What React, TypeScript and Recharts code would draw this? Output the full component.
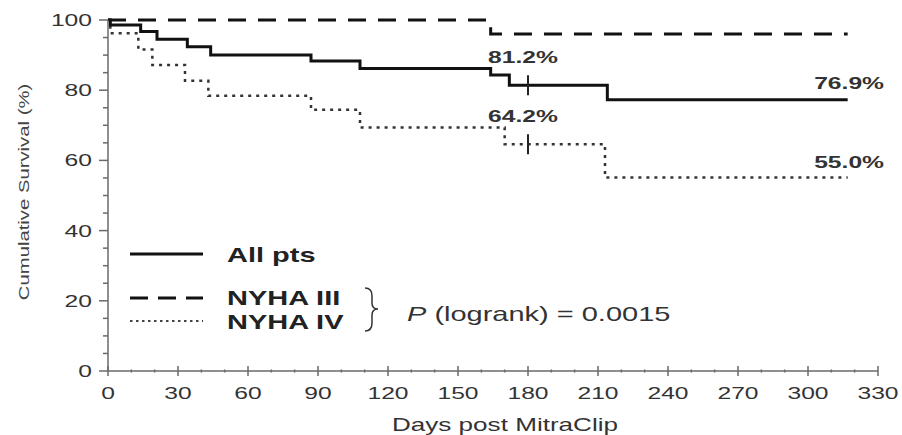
import React from "react"
import { ComposedChart, Line, Scatter, XAxis, YAxis } from "recharts"

// Kaplan-Meier steps (day, survival %)
const allPts = [
  { day: 0, v: 100 }, { day: 1, v: 98.6 }, { day: 14, v: 96.7 }, { day: 21, v: 94.5 },
  { day: 34, v: 92.4 }, { day: 44, v: 90.0 }, { day: 87, v: 88.3 }, { day: 108, v: 86.2 },
  { day: 164, v: 84.3 }, { day: 172, v: 81.4 }, { day: 214, v: 77.3 }, { day: 317, v: 77.3 },
]
const nyha3 = [
  { day: 0, v: 100 }, { day: 164, v: 96 }, { day: 317, v: 96 },
]
const nyha4 = [
  { day: 0, v: 100 }, { day: 1, v: 96.2 }, { day: 13, v: 91.6 }, { day: 19, v: 87.2 },
  { day: 33, v: 82.7 }, { day: 43, v: 78.4 }, { day: 87, v: 74.4 }, { day: 108, v: 69.4 },
  { day: 170, v: 64.6 }, { day: 213, v: 55.1 }, { day: 317, v: 55.1 },
]
const censorAll = [{ day: 180, v: 81.4 }]
const censorIV = [{ day: 180, v: 64.6 }]

const xTicks = Array.from({ length: 34 }, (_, i) => i * 10)
const yTicks = Array.from({ length: 21 }, (_, i) => i * 5)

const FONT = "'Liberation Sans', Arial, sans-serif"
const AXIS = "#6a6a6a"
const SX = 1.45 // the figure's lettering is stretched horizontally

// text stretched along its own direction
const SText = (p: any) => {
  const { x, y, rotate = 0, size, weight = "normal", anchor = "start", fill = "#333", children, baseline } = p
  return (
    <text
      transform={`translate(${x} ${y}) rotate(${rotate}) scale(${SX} 1)`}
      fontFamily={FONT}
      fontSize={size}
      fontWeight={weight}
      textAnchor={anchor}
      fill={fill}
      dominantBaseline={baseline}
    >
      {children}
    </text>
  )
}

const XTick = (props: any) => {
  const { x, y, payload } = props
  const major = payload.value % 30 === 0
  return (
    <g>
      <line x1={x} x2={x} y1={major ? y - 5 : y - 1.5} y2={major ? y + 5 : y + 1.5} stroke={AXIS} strokeWidth={1.5} />
      {major && (
        <SText x={x} y={y + 28} anchor="middle" size={17}>
          {payload.value}
        </SText>
      )}
    </g>
  )
}

const YTick = (props: any) => {
  const { x, y, payload } = props
  const major = payload.value % 20 === 0
  return (
    <g>
      <line x1={major ? x - 9 : x - 5} x2={x} y1={y} y2={y} stroke={AXIS} strokeWidth={1.5} />
      {major && (
        <SText x={x - 16} y={y + 6} anchor="end" size={17}>
          {payload.value}
        </SText>
      )}
    </g>
  )
}

const censorMark = (props: any) => {
  const { cx, cy } = props
  return <line x1={cx} x2={cx} y1={cy - 10} y2={cy + 10} stroke="#222" strokeWidth={2} />
}

export default function App() {
  return (
    <div style={{ position: "absolute", left: 0, top: 0, background: "#fff" }}>
      <ComposedChart width={902} height={435} margin={{ top: 20, right: 24, left: 0, bottom: 0 }}>
        <XAxis
          dataKey="day"
          type="number"
          domain={[0, 330]}
          ticks={xTicks}
          interval={0}
          height={64}
          tickSize={0}
          tickMargin={0}
          tickLine={false}
          tick={<XTick />}
          axisLine={{ stroke: AXIS, strokeWidth: 1.5 }}
        />
        <YAxis
          type="number"
          domain={[0, 100]}
          ticks={yTicks}
          interval={0}
          width={108}
          tickSize={0}
          tickMargin={0}
          tickLine={false}
          tick={<YTick />}
          axisLine={{ stroke: AXIS, strokeWidth: 1.5 }}
        />
        <Line data={nyha4} dataKey="v" type="stepAfter" stroke="#333" strokeWidth={2.5} strokeDasharray="3 5" dot={false} isAnimationActive={false} />
        <Line data={nyha3} dataKey="v" type="stepAfter" stroke="#111" strokeWidth={3} strokeDasharray="18 12" dot={false} isAnimationActive={false} />
        <Line data={allPts} dataKey="v" type="stepAfter" stroke="#111" strokeWidth={3} dot={false} isAnimationActive={false} />
        <Scatter data={censorAll} dataKey="v" shape={censorMark} isAnimationActive={false} />
        <Scatter data={censorIV} dataKey="v" shape={censorMark} isAnimationActive={false} />

        {/* axis titles */}
        <SText x={505} y={431} anchor="middle" size={18}>
          Days post MitraClip
        </SText>
        <SText x={25} y={192} rotate={-90} anchor="middle" size={14} fill="#444" baseline="middle">
          Cumulative Survival (%)
        </SText>

        {/* percentage annotations */}
        <SText x={488} y={63} size={17} weight="bold">81.2%</SText>
        <SText x={488} y={122} size={17} weight="bold">64.2%</SText>
        <SText x={884} y={89} anchor="end" size={17} weight="bold">76.9%</SText>
        <SText x={884} y={168} anchor="end" size={17} weight="bold">55.0%</SText>

        {/* legend */}
        <line x1={130} x2={203} y1={254} y2={254} stroke="#111" strokeWidth={3} />
        <line x1={130} x2={203} y1={298} y2={298} stroke="#111" strokeWidth={3} strokeDasharray="18 10" />
        <line x1={130} x2={203} y1={321} y2={321} stroke="#444" strokeWidth={2} strokeDasharray="2.5 3.5" />
        <SText x={227} y={262} size={20} weight="bold" fill="#222">All pts</SText>
        <SText x={227} y={305} size={20} weight="bold" fill="#222">NYHA III</SText>
        <SText x={227} y={329} size={20} weight="bold" fill="#222">NYHA IV</SText>
        <path d="M365 288 Q372 288 372 296 L372 303 Q372 309 378 309 Q372 309 372 315 L372 323 Q372 331 365 331" fill="none" stroke="#333" strokeWidth={1.5} />
        <SText x={407} y={321} size={20}>
          <tspan fontStyle="italic">P</tspan> (logrank) = 0.0015
        </SText>
      </ComposedChart>
    </div>
  )
}
